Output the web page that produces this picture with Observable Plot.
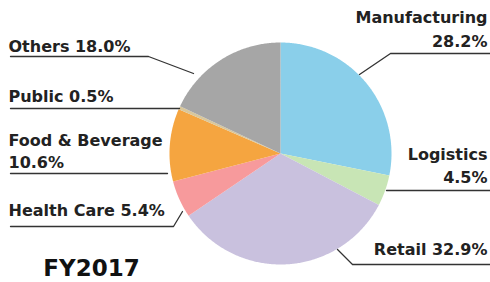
<!DOCTYPE html>
<html>
<head>
<meta charset="utf-8">
<script src="https://cdn.jsdelivr.net/npm/d3@7"></script>
<script src="https://cdn.jsdelivr.net/npm/@observablehq/plot@0.6"></script>
<style>
  html, body { margin: 0; padding: 0; background: #fff; }
  #chart svg { display: block; }
</style>
</head>
<body>
<div id="chart"></div>
<script>
// ---- data ----
const categories = ["Manufacturing", "Logistics", "Retail", "Health Care", "Food & Beverage", "Public", "Others"];
const shares = [28.2, 4.5, 32.9, 5.4, 10.6, 0.5, 18.0];
const sliceColors = ["#8ACFEA", "#C8E5B5", "#C9C1DE", "#F79A9C", "#F5A540", "#D9C79B", "#A6A6A6"];
const periodLabel = "FY2017";

// ---- layout (pixels) ----
const W = 490, H = 282;
const pie = {cx: 280, cy: 153, r: 111};
const fontSize = 16;
const labelLayout = {
  "Manufacturing":   {anchor: "end",   x: 487, baselines: [22, 46], path: [[359, 74], [390, 53], [490, 53]]},
  "Logistics":       {anchor: "end",   x: 487, baselines: [159, 182], path: [[386, 190], [490, 190]]},
  "Retail":          {anchor: "end",   x: 487, baselines: [254], path: [[337, 249], [352, 264], [490, 264]]},
  "Health Care":     {anchor: "start", x: 8,   baselines: [215], path: [[182, 211], [173, 226], [10, 226]]},
  "Food & Beverage": {anchor: "start", x: 8,   baselines: [145, 167], path: [[167, 173], [10, 173]]},
  "Public":          {anchor: "start", x: 8,   baselines: [101], path: [[179, 108], [10, 108]]},
  "Others":          {anchor: "start", x: 8,   baselines: [51], path: [[193, 73], [148, 56], [10, 56]]}
};
const titleLayout = {x: 91, baseline: 275, size: 23};

// ---- slice geometry from data ----
const arcs = d3.pie().sort(null).value(d => d.share)(
  categories.map((c, i) => ({category: c, share: shares[i]}))
);
const slicePoints = [];
for (const a of arcs) {
  const cat = a.data.category;
  slicePoints.push({category: cat, x: pie.cx, y: pie.cy});
  const n = Math.max(2, Math.ceil((a.endAngle - a.startAngle) / 0.01));
  for (let k = 0; k <= n; k++) {
    const t = a.startAngle + (a.endAngle - a.startAngle) * k / n;
    slicePoints.push({category: cat, x: pie.cx + pie.r * Math.sin(t), y: pie.cy - pie.r * Math.cos(t)});
  }
  slicePoints.push({category: cat, x: pie.cx, y: pie.cy});
}

// ---- labels ----
const textRows = [];
const leaderPoints = [];
categories.forEach((c, i) => {
  const L = labelLayout[c];
  const pct = shares[i].toFixed(1) + "%";
  const lines = L.baselines.length === 2 ? [c, pct] : [c + " " + pct];
  lines.forEach((t, j) => textRows.push({text: t, x: L.x, y: L.baselines[j] - 0.32 * fontSize, anchor: L.anchor}));
  L.path.forEach(([x, y]) => leaderPoints.push({category: c, x, y}));
});

const chart = Plot.plot({
  width: W,
  height: H,
  margin: 0,
  x: {domain: [0, W], range: [0, W], axis: null},
  y: {domain: [0, H], range: [0, H], axis: null},
  color: {type: "ordinal", domain: categories, range: sliceColors},
  style: {fontFamily: "DejaVu Sans", background: "#fff"},
  marks: [
    Plot.line(slicePoints, {x: "x", y: "y", z: "category", fill: "category", stroke: null, curve: "linear"}),
    Plot.line(leaderPoints, {x: "x", y: "y", z: "category", stroke: "#333", strokeWidth: 1.3}),
    Plot.text(textRows.filter(d => d.anchor === "start"), {x: "x", y: "y", text: "text", textAnchor: "start", fontSize, fontWeight: "bold", fill: "#222"}),
    Plot.text(textRows.filter(d => d.anchor === "end"), {x: "x", y: "y", text: "text", textAnchor: "end", fontSize, fontWeight: "bold", fill: "#222"}),
    Plot.text([periodLabel], {x: () => titleLayout.x, y: () => titleLayout.baseline - 0.32 * titleLayout.size, text: d => d, textAnchor: "middle", fontSize: titleLayout.size, fontWeight: "bold", fill: "#111"})
  ]
});
document.getElementById("chart").appendChild(chart);
</script>
</body>
</html>
